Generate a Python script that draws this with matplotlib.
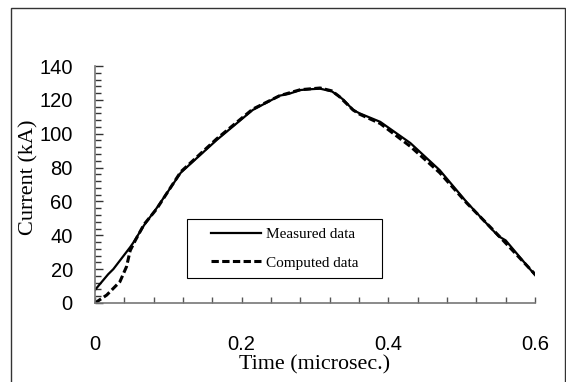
import matplotlib.pyplot as plt
from matplotlib.patches import Rectangle
from matplotlib.ticker import MultipleLocator

# measured current waveform
t_meas = [0.0, 0.018, 0.025, 0.048, 0.052, 0.067, 0.084, 0.117, 0.166, 0.215,
          0.252, 0.264, 0.28, 0.294, 0.307, 0.323, 0.333, 0.339, 0.352, 0.361,
          0.389, 0.43, 0.47, 0.507, 0.55, 0.56, 0.6]
i_meas = [7.7, 17.0, 20.0, 33.0, 35.5, 46.0, 56.0, 77.0, 96.3, 114.0,
          122.5, 123.5, 125.8, 126.3, 126.6, 125.0, 122.0, 120.0, 114.0, 112.0,
          107.0, 94.5, 78.5, 59.5, 39.5, 37.0, 16.5]

# computed current waveform
t_comp = [0.0, 0.016, 0.034, 0.043, 0.048, 0.055, 0.067, 0.084, 0.117, 0.166,
          0.215, 0.252, 0.28, 0.307, 0.323, 0.333, 0.352, 0.361, 0.389, 0.43,
          0.47, 0.507, 0.55, 0.6]
i_comp = [0.0, 4.7, 12.6, 21.5, 31.0, 37.0, 46.5, 55.5, 77.5, 97.0,
          114.5, 122.5, 126.0, 127.0, 125.3, 122.0, 114.0, 111.5, 106.0, 92.5,
          77.0, 59.0, 40.0, 17.0]

serif = "Liberation Serif"
sans = "Liberation Sans"

fig = plt.figure(figsize=(5.66, 3.82), dpi=100)
fig.patches.append(Rectangle((11 / 566, -0.01), (565 - 11) / 566, 1 - 8 / 382 + 0.01,
                             transform=fig.transFigure, fill=False,
                             edgecolor="#333333", linewidth=1.0))

ax = fig.add_axes([95 / 566, 1 - 303 / 382, 440 / 566, 237 / 382])
ax.plot(t_meas, i_meas, color="black", linewidth=1.6, label="Measured data")
ax.plot(t_comp, i_comp, color="black", linewidth=2.2, dashes=(2.4, 1.1),
        label="Computed data")

ax.set_xlim(0, 0.6)
ax.set_ylim(0, 140)
ax.xaxis.set_major_locator(MultipleLocator(0.2))
ax.xaxis.set_minor_locator(MultipleLocator(0.04))
ax.yaxis.set_major_locator(MultipleLocator(20))
ax.yaxis.set_minor_locator(MultipleLocator(4))
ax.set_xticks([0, 0.2, 0.4, 0.6], ["0", "0.2", "0.4", "0.6"])

for side in ["top", "right"]:
    ax.spines[side].set_visible(False)
for side in ["left", "bottom"]:
    ax.spines[side].set_color("#777777")
    ax.spines[side].set_linewidth(1.2)

ax.tick_params(axis="x", which="both", direction="in", length=4, width=1,
               color="#555555", pad=23, labelsize=14.5)
ax.tick_params(axis="y", which="major", direction="in", length=6, width=1,
               color="#333333", pad=16, labelsize=14.5)
ax.tick_params(axis="y", which="minor", direction="in", length=4, width=1,
               color="#333333")
for lbl in ax.get_xticklabels() + ax.get_yticklabels():
    lbl.set_fontfamily(sans)

ax.set_xlabel("Time (microsec.)", fontfamily=serif, fontsize=15.8, labelpad=1)
ax.set_ylabel("Current (kA)", fontfamily=serif, fontsize=16)
ax.yaxis.set_label_coords(-0.128, 0.53)

# legend box drawn separately so its padding matches the original
ax.add_patch(Rectangle((0.209, 0.105), 0.443, 0.249, transform=ax.transAxes,
                       fill=False, edgecolor="black", linewidth=0.8, zorder=4))
leg = ax.legend(loc="center", bbox_to_anchor=(0.209, 0.105, 0.443, 0.249),
                frameon=False, handlelength=3.3, borderaxespad=0,
                prop={"family": serif, "size": 11}, labelspacing=0.95,
                borderpad=0.2, handletextpad=0.3)

fig.savefig("out.png", dpi=100)
